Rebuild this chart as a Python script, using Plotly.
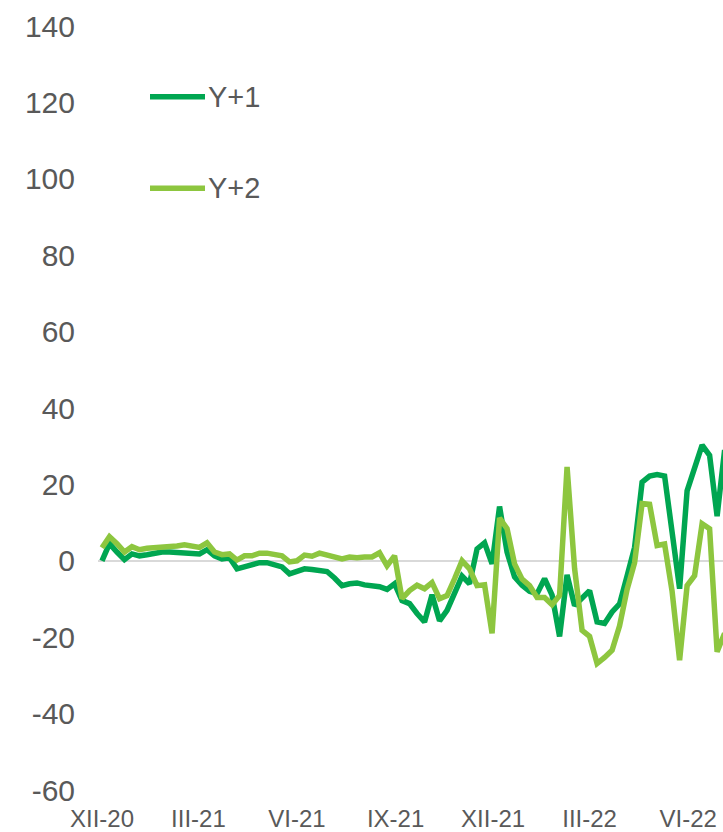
import plotly.graph_objects as go
import pandas as pd

# ---- data ----
start_date = "2020-12-01"
y1_values = [0, 4.5, 2.3, 0.3, 1.8, 1.3, 1.6, 2.0, 2.3, 2.3,
             2.2, 2.3, 2.0, 1.8, 2.9, 1.3, 0.5, 0.8, -2.1, -1.6,
             -0.8, -0.5, -0.5, -1.0, -1.6, -3.4, -2.8, -2.1, -2.3, -2.4,
             -2.8, -4.5, -6.5, -6.0, -5.8, -6.3, -6.5, -6.8, -7.5, -6.0,
             -10.4, -11.2, -13.8, -16.0, -8.9, -15.7, -13.0, -8.6, -4.0, -6.0,
             3.1, 4.7, -0.8, 14.2, 2.3, -4.2, -6.4, -8.0, -8.6, -4.7,
             -9.0, -19.8, -3.7, -11.7, -9.8, -7.8, -16.0, -16.4, -13.4, -11.3,
             -4.0, 3.5, 20.6, 22.2, 22.6, 22.2, 7.5, -7.3, 18.3, 24.5,
             30.3, 27.6, 11.7, 29.0]
y2_values = [3.4, 6.3, 4.5, 2.3, 3.7, 2.9, 3.3, 3.4, 3.5, 3.8,
             3.9, 4.2, 4.0, 3.5, 4.7, 2.3, 1.6, 1.8, 0.2, 1.3,
             1.3, 2.0, 2.0, 1.8, 1.3, -0.3, 0.0, 1.5, 1.2, 2.0,
             1.4, 1.0, 0.5, 1.0, 0.8, 1.0, 1.0, 2.1, -1.3, 1.3,
             -9.9, -7.8, -6.4, -7.3, -5.7, -9.9, -9.1, -4.7, 0.0, -2.1,
             -6.5, -6.3, -19.0, 11.2, 8.4, -0.8, -4.8, -6.5, -9.6, -9.6,
             -11.5, -9.1, 24.6, -2.0, -18.2, -19.8, -26.9, -25.3, -23.4, -17.0,
             -7.5, -0.5, 15.0, 14.8, 4.0, 4.4, -8.0, -26.0, -6.5, -3.9,
             9.7, 8.4, -23.8, -19.0]
series_names = ["Y+1", "Y+2"]
series_colors = ["#00A651", "#8DC63F"]

x_tick_dates = ["2020-12-01", "2021-03-01", "2021-06-01", "2021-09-01",
                "2021-12-01", "2022-03-01", "2022-06-01"]
x_tick_labels = ["XII-20", "III-21", "VI-21", "IX-21", "XII-21", "III-22", "VI-22"]
y_tick_values = [-60, -40, -20, 0, 20, 40, 60, 80, 100, 120, 140]
y_tick_labels = ["-60", "-40", "-20", "0", "20", "40", "60", "80", "100", "120", "140"]

dates = pd.date_range(start_date, periods=len(y1_values), freq="7D")

FONT = "Liberation Sans, Arial, sans-serif"
TEXT_COLOR = "#595959"

fig = go.Figure()
for name, vals, col in zip(series_names, [y1_values, y2_values], series_colors):
    fig.add_trace(go.Scatter(x=dates, y=vals, mode="lines", name=name,
                             line=dict(color=col, width=5.5), showlegend=False))

# manual legend (long line samples as in the reference)
legend_y = [0.9074, 0.7875]
shapes = []
annotations = []
for name, col, ly in zip(series_names, series_colors, legend_y):
    shapes.append(dict(type="line", xref="paper", yref="paper",
                       x0=0.0832, x1=0.1712, y0=ly, y1=ly,
                       line=dict(color=col, width=5.5)))
    annotations.append(dict(xref="paper", yref="paper", x=0.172, y=ly,
                            xanchor="left", yanchor="middle", showarrow=False,
                            text=name, font=dict(family=FONT, size=29, color=TEXT_COLOR)))

fig.update_layout(
    width=723, height=832,
    margin=dict(l=98, r=0, t=26, b=39),
    paper_bgcolor="white", plot_bgcolor="white",
    shapes=shapes, annotations=annotations,
    font=dict(family=FONT, color=TEXT_COLOR),
)
fig.update_yaxes(range=[-60, 140], tickvals=y_tick_values, ticktext=y_tick_labels,
                 showgrid=False, zeroline=True, zerolinecolor="#D9D9D9", zerolinewidth=2,
                 showline=False, ticks="", ticklabelstandoff=22,
                 tickfont=dict(family=FONT, size=30, color=TEXT_COLOR))
fig.update_xaxes(type="date", range=["2020-11-27 07:00", "2022-07-03 12:00"],
                 tickvals=x_tick_dates, ticktext=x_tick_labels,
                 showgrid=False, zeroline=False, showline=False, ticks="",
                 ticklabelstandoff=12,
                 tickfont=dict(family=FONT, size=24, color=TEXT_COLOR))

fig.write_html("out.html", config={"displayModeBar": False},
               post_script="document.body.style.margin='0px';")
